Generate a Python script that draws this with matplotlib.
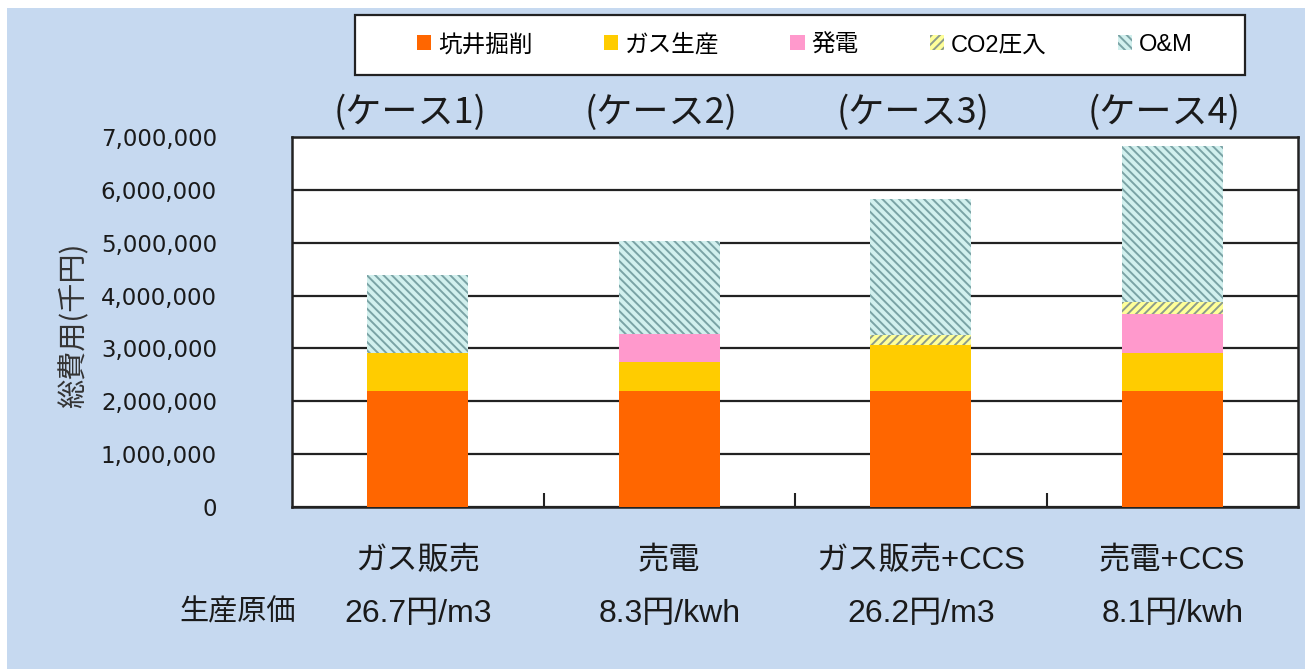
import matplotlib
matplotlib.use('Agg')
import matplotlib.pyplot as plt
from matplotlib.patches import Patch, Rectangle
from matplotlib.transforms import blended_transform_factory, ScaledTranslation
import numpy as np

plt.rcParams['font.family'] = ['DejaVu Sans', 'Noto Sans CJK JP']
plt.rcParams['hatch.linewidth'] = 1.4

# ---- data -------------------------------------------------------------
cases = ['(ケース1)', '(ケース2)', '(ケース3)', '(ケース4)']
scenarios = ['ガス販売', '売電', 'ガス販売+CCS', '売電+CCS']
unit_costs = ['26.7円/m3', '8.3円/kwh', '26.2円/m3', '8.1円/kwh']
components = ['坑井掘削', 'ガス生産', '発電', 'CO2圧入', 'O&M']

drilling = [2200000, 2200000, 2200000, 2200000]
gas_production = [720000, 540000, 860000, 710000]
power_generation = [0, 540000, 0, 750000]
co2_injection = [0, 0, 190000, 210000]
operation_maintenance = [1460000, 1760000, 2580000, 2960000]

y_ticks = [0, 1000000, 2000000, 3000000, 4000000, 5000000, 6000000, 7000000]

# ---- styles -----------------------------------------------------------
styles = [
    dict(facecolor='#FF6600', edgecolor='none', hatch=None),
    dict(facecolor='#FFCC00', edgecolor='none', hatch=None),
    dict(facecolor='#FF99CC', edgecolor='none', hatch=None),
    dict(facecolor='#FFFF99', edgecolor='#8C9C8C', hatch='////'),
    dict(facecolor='#D2F0EE', edgecolor='#7AA3A5', hatch='\\\\\\\\'),
]

W, H = 1305, 672
fig = plt.figure(figsize=(W / 100, H / 100), dpi=100, facecolor='white')

# light blue panel behind the chart
fig.patches.append(Rectangle((7 / W, 0.004), 1 - 7 / W, 1 - 8 / H - 0.004,
                             transform=fig.transFigure, facecolor='#C6D9F0',
                             edgecolor='none', zorder=-5))
# legend box
fig.patches.append(Rectangle((355 / W, 1 - 75 / H), 890 / W, 60 / H,
                             transform=fig.transFigure, facecolor='white',
                             edgecolor='#222222', linewidth=1.6, zorder=-4))

ax = fig.add_axes([292 / W, 1 - 507 / H, (1298 - 292) / W, (507 - 137) / H])
ax.set_facecolor('white')

x = np.arange(len(scenarios))
series = [drilling, gas_production, power_generation, co2_injection,
          operation_maintenance]
bottom = np.zeros(len(x))
for vals, st in zip(series, styles):
    vals = np.array(vals, dtype=float)
    if st['hatch']:
        ax.bar(x, vals, 0.4, bottom=bottom, facecolor=st['facecolor'],
               edgecolor=st['edgecolor'], hatch=st['hatch'], linewidth=0,
               zorder=3)
    else:
        ax.bar(x, vals, 0.4, bottom=bottom, color=st['facecolor'],
               linewidth=0, zorder=3)
    bottom += vals

ax.set_xlim(-0.5, len(x) - 0.5)
ax.set_ylim(0, 7000000)
ax.set_yticks(y_ticks)
ax.set_yticklabels([f'{v:,}' for v in y_ticks], fontsize=16.5,
                   family='DejaVu Sans', color='#1a1a1a')
ax.tick_params(axis='y', length=0, pad=54)
ax.yaxis.grid(True, color='#222222', linewidth=1.6, zorder=1)
ax.set_axisbelow(True)

ax.set_xticks(x)
ax.set_xticklabels(scenarios, fontsize=22.5,
                   family=['Liberation Sans', 'Noto Sans CJK JP'],
                   color='#1a1a1a')
ax.tick_params(axis='x', which='major', length=0, pad=28)
ax.set_xticks(x[:-1] + 0.5, minor=True)
ax.tick_params(axis='x', which='minor', direction='in', length=10,
               width=1.5, color='#222222')

for sp in ax.spines.values():
    sp.set_color('#222222')
    sp.set_linewidth(1.8)

ax.set_ylabel('総費用(千円)', fontsize=21, family='Noto Sans CJK JP',
              color='#333333')
ax.yaxis.set_label_coords((90 - 292) / (1298 - 292), 0.49)

# case titles above the plot and unit costs below the category labels
tr = blended_transform_factory(ax.transData, fig.transFigure)
tr_case = tr + ScaledTranslation(-8 / 100, 0, fig.dpi_scale_trans)
for xi, c, u in zip(x, cases, unit_costs):
    ax.text(xi, 1 - 113 / H, c, transform=tr_case, ha='center', va='center',
            fontsize=26, family='Noto Sans CJK JP', color='#1a1a1a')
    ax.text(xi, 1 - 614 / H, u, transform=tr, ha='center', va='center',
            fontsize=23, family=['Liberation Sans', 'Noto Sans CJK JP'],
            color='#1a1a1a')
fig.text(296 / W, 1 - 612 / H, '生産原価', ha='right', va='center',
         fontsize=21, family='Noto Sans CJK JP', color='#1a1a1a')

# legend
handles = []
for name, st in zip(components, styles):
    handles.append(Patch(facecolor=st['facecolor'],
                         edgecolor=st['edgecolor'] if st['hatch'] else st['facecolor'],
                         hatch=st['hatch'], linewidth=0, label=name))
leg = fig.legend(handles=handles, loc='center', ncol=5,
                 bbox_to_anchor=(805 / W, 1 - 45 / H), frameon=False,
                 handlelength=0.6, handleheight=0.6,
                 handletextpad=0.3, columnspacing=3.0, borderpad=0.3,
                 prop={'family': ['Liberation Sans', 'Noto Sans CJK JP'],
                       'size': 17})

fig.savefig('out.png', dpi=100, facecolor='white')
